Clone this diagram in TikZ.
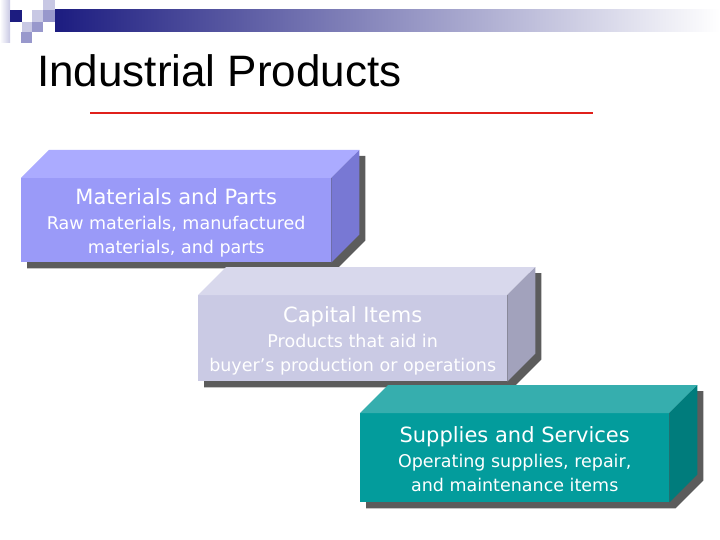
\documentclass[tikz,border=0pt]{standalone}
\usepackage{fontspec}
\setmainfont{DejaVu Sans}
\newfontfamily\titlefont{Liberation Sans}
\definecolor{barnavy}{HTML}{1C1C80}
\definecolor{barlight}{HTML}{C8C8E4}
\definecolor{barmid}{HTML}{9898CC}
\definecolor{rulered}{HTML}{E0201B}
\definecolor{matfront}{HTML}{9A9AF8}
\definecolor{mattop}{HTML}{ABABFF}
\definecolor{matside}{HTML}{7878D4}
\definecolor{capfront}{HTML}{CACAE4}
\definecolor{captop}{HTML}{D8D8EC}
\definecolor{capside}{HTML}{A2A2BC}
\definecolor{supfront}{HTML}{039C9C}
\definecolor{suptop}{HTML}{36AEAE}
\definecolor{supside}{HTML}{007C7C}
\definecolor{boxshadow}{HTML}{5C5C5C}
\usetikzlibrary{positioning, calc, backgrounds}

\begin{document}
\begin{tikzpicture}[x=1pt, y=-1pt, every node/.style={inner sep=0pt}]
        \useasboundingbox (0,0) rectangle (720,540);
        % corner squares and top bar
        \shade[left color=white, right color=barlight] (0,0) rectangle (10,43);
        \fill[barnavy] (10,10) rectangle (22,22);
        \fill[barlight] (22,22) rectangle (32,32);
        \fill[barmid] (21,32) rectangle (32,43);
        \fill[barlight] (32,10) rectangle (43,22);
        \fill[barmid] (32,22) rectangle (43,32);
        \fill[barlight] (43,0) rectangle (55,10);
        \fill[barmid] (43,10) rectangle (55,22);
        \shade[left color=barnavy, middle color=barlight!90!barnavy, right color=white] (55,10) rectangle (720,32);
        \node[anchor=base west, font=\titlefont\fontsize{44}{50}\selectfont] (title) at (37,87) {Industrial Products};
        \draw[rulered, line width=2.5pt] (90,113) -- (593,113);
        % front faces
        \node[anchor=north west, fill=matfront, minimum width=310pt, minimum height=84pt, align=center, text=white, font=\fontsize{17.5}{24}\selectfont] (mat) at (21,178) {{\fontsize{21}{24}\selectfont\rule{0pt}{22pt}Materials and Parts}\\[1pt]Raw materials, manufactured\\materials, and parts};
        \node[anchor=north west, fill=capfront, minimum width=309pt, minimum height=86pt, align=center, text=white, font=\fontsize{17.5}{24}\selectfont] (cap) at (198,295) {{\fontsize{21}{24}\selectfont\rule{0pt}{22pt}Capital Items}\\[1pt]Products that aid in\\buyer’s production or operations};
        \node[anchor=north west, fill=supfront, minimum width=309pt, minimum height=89pt, align=center, text=white, font=\fontsize{17.5}{24}\selectfont] (sup) at (360,413) {{\fontsize{21}{24}\selectfont\rule{0pt}{19pt}Supplies and Services}\\[1pt]Operating supplies, repair,\\and maintenance items};
        % top, side and shadow of each block
        \foreach \b in {mat, cap, sup} {
          \begin{scope}[on background layer]
            \fill[boxshadow] ($(\b.south west)+(6,6)$) -- ($(\b.south east)+(6,6)$) -- ($(\b.south east)+(34,-22)$) -- ($(\b.north east)+(34,-22)$) -- ($(\b.north west)+(34,-22)$) -- ($(\b.north west)+(6,6)$) -- cycle;
          \end{scope}
          \fill[\b top] (\b.north west) -- ++(28,-28) -- ($(\b.north east)+(28,-28)$) -- (\b.north east) -- cycle;
          \fill[\b side] (\b.north east) -- ++(28,-28) -- ($(\b.south east)+(28,-28)$) -- (\b.south east) -- cycle;
        }
      \end{tikzpicture}
\end{document}
